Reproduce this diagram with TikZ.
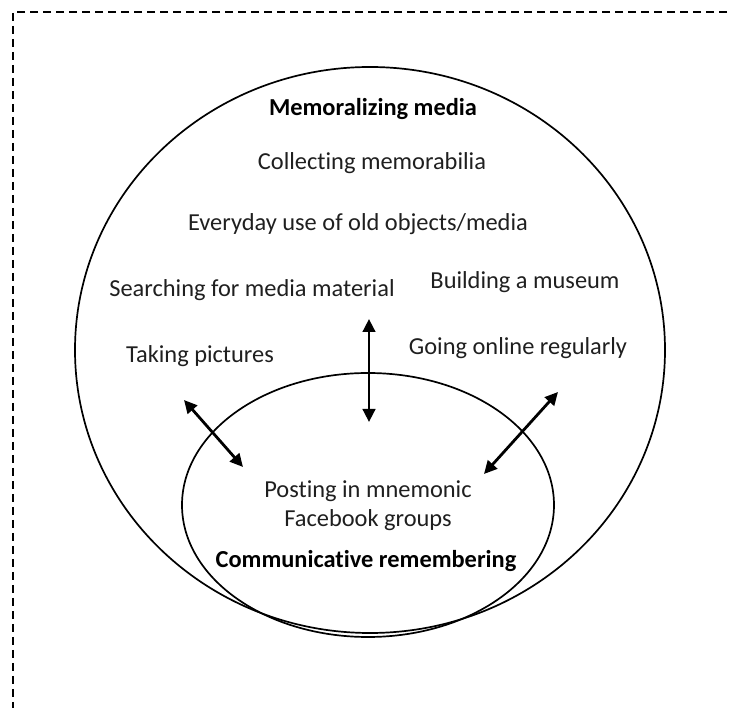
\documentclass[tikz,border=0pt]{standalone}
\usepackage{fontspec}
\setmainfont{Carlito}[Ligatures=NoCommon,RawFeature=-liga]
\usetikzlibrary{arrows.meta}
\begin{document}
\begin{tikzpicture}[x=1pt,y=-1pt,
  every node/.style={inner sep=0pt,anchor=base,text=black!88,font=\fontsize{24.4}{29}\selectfont},
  head/.style={font=\fontsize{24.4}{29}\selectfont\bfseries,text=black},
  ring/.style={draw=black,line width=1.7pt},
  link/.style={line width=2.8pt,{Triangle[length=13pt,width=12.5pt]}-{Triangle[length=13pt,width=12.5pt]}},
  frame/.style={draw=black,line width=1.5pt,dash pattern=on 8pt off 5pt}]
\useasboundingbox (0,0) rectangle (732,708);

% dashed frame along the top and left
\coordinate (fTL) at (13,12);
\coordinate (fTR) at (740,12);
\coordinate (fBL) at (13,716);
\draw[frame] (fTR) -- (fTL) -- (fBL);

% outer and inner ellipses
\draw[ring] (370,350) ellipse [x radius=295, y radius=283];
\draw[ring] (368,505) ellipse [x radius=186, y radius=132];

% outer labels
\node[head] (mm) at (373,116) {Memoralizing media};
\node (cm) at (372,170) {Collecting memorabilia};
\node (eu) at (358,231) {Everyday use of old objects/media};
\node (sm) at (252,297) {Searching for media material};
\node (bm) at (525,289) {Building a museum};
\node (tp) at (200,363) {Taking pictures};
\node (go) at (518,355) {Going online regularly};

% inner labels
\node (p1) at (368,498) {Posting in mnemonic};
\node (p2) at (368,527) {Facebook groups};
\node[head] (cr) at (366,568) {Communicative remembering};

% two-headed arrows crossing the inner ellipse
\coordinate (aT) at (369,319);
\coordinate (aB) at (369,422);
\coordinate (lT) at (184,400);
\coordinate (lB) at (243,467);
\coordinate (rT) at (558,392);
\coordinate (rB) at (484,474);
\draw[link] (aT) -- (aB);
\draw[link] (lT) -- (lB);
\draw[link] (rT) -- (rB);
\end{tikzpicture}
\end{document}
